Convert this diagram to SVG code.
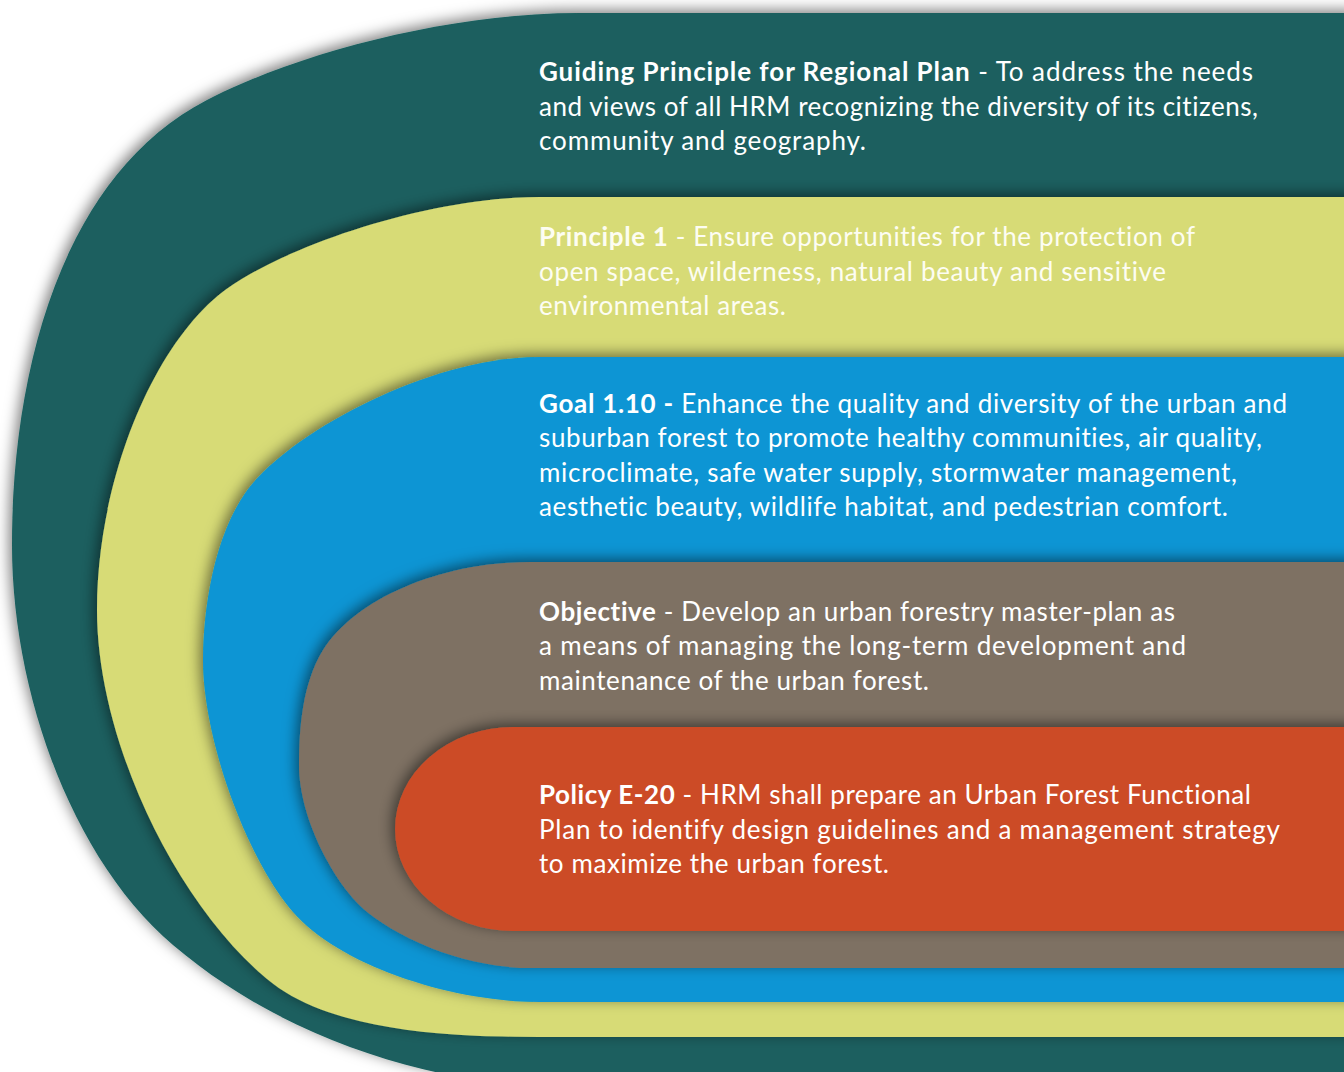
<svg xmlns="http://www.w3.org/2000/svg" width="1344" height="1072" viewBox="0 0 1344 1072">
  <defs>
    <filter id="shade" x="-10%" y="-10%" width="120%" height="120%">
      <feDropShadow dx="-3" dy="-3" stdDeviation="7" flood-color="#000" flood-opacity="0.5"/>
    </filter>
    <style>
      .band { filter: url(#shade); }
      .txt { font-family: "Lato", "Liberation Sans", sans-serif; font-size: 26px; fill: #ffffff;
             font-variant-ligatures: none; font-feature-settings: "liga" 0, "clig" 0, "dlig" 0; }
      .txt.light { fill: #fdfdf2; }
      .b { font-weight: 700; }
    </style>
  </defs>

  <rect width="1344" height="1072" fill="#ffffff"/>

  <!-- outermost: guiding principle -->
  <g id="guiding-principle">
    <path class="band" fill="#1a5f5e" d="M1360,13 L580,13 C450,13 300,52 207,100 C65,173 12,365 12,545 C12,695 74,861 173,945 C287,1042 440,1088 580,1088 L1360,1088 Z"/>
    <text class="txt" x="539" y="81" textLength="714" lengthAdjust="spacing"><tspan class="b">Guiding Principle for Regional Plan</tspan> - To address the needs</text>
    <text class="txt" x="539" y="115.5" textLength="719" lengthAdjust="spacing">and views of all HRM recognizing the diversity of its citizens,</text>
    <text class="txt" x="539" y="150" textLength="327" lengthAdjust="spacing">community and geography.</text>
  </g>

  <!-- principle 1 -->
  <g id="principle-1">
    <path class="band" fill="#d7db76" d="M1360,197 L540,197 C420,197 265,253 213,300 C146,360 97,490 97,610 C97,740 175,902 267,979 C328,1030 440,1037 540,1037 L1360,1037 Z"/>
    <text class="txt light" x="539" y="246" textLength="656" lengthAdjust="spacing"><tspan class="b">Principle 1</tspan> - Ensure opportunities for the protection of</text>
    <text class="txt light" x="539" y="280.5" textLength="627" lengthAdjust="spacing">open space, wilderness, natural beauty and sensitive</text>
    <text class="txt light" x="539" y="315" textLength="247" lengthAdjust="spacing">environmental areas.</text>
  </g>

  <!-- goal 1.10 -->
  <g id="goal-1-10">
    <path class="band" fill="#0895d4" d="M1360,357 L540,357 C430,357 298,430 253,483 C214,529 203,610 203,660 C203,740 247,859 293,912 C339,965 450,1002 540,1002 L1360,1002 Z"/>
    <text class="txt" x="539" y="412.5" textLength="748" lengthAdjust="spacing"><tspan class="b">Goal 1.10 -</tspan> Enhance the quality and diversity of the urban and</text>
    <text class="txt" x="539" y="447" textLength="723" lengthAdjust="spacing">suburban forest to promote healthy communities, air quality,</text>
    <text class="txt" x="539" y="481.5" textLength="698" lengthAdjust="spacing">microclimate, safe water supply, stormwater management,</text>
    <text class="txt" x="539" y="516" textLength="689" lengthAdjust="spacing">aesthetic beauty, wildlife habitat, and pedestrian comfort.</text>
  </g>

  <!-- objective -->
  <g id="objective">
    <path class="band" fill="#7e7163" d="M1360,562 L530,562 C440,562 355,599 323,650 C302,684 299,730 299,765 C299,820 336,887 367,912 C406,943 470,968 530,968 L1360,968 Z"/>
    <text class="txt" x="539" y="620.5" textLength="636" lengthAdjust="spacing"><tspan class="b">Objective</tspan> - Develop an urban forestry master-plan as</text>
    <text class="txt" x="539" y="655" textLength="647" lengthAdjust="spacing">a means of managing the long-term development and</text>
    <text class="txt" x="539" y="689.5" textLength="390" lengthAdjust="spacing">maintenance of the urban forest.</text>
  </g>

  <!-- policy e-20 -->
  <g id="policy-e-20">
    <path class="band" fill="#cc4c28" d="M1360,727 L513,727 A118,102 0 0 0 513,931 L1360,931 Z"/>
    <text class="txt" x="539" y="804" textLength="712" lengthAdjust="spacing"><tspan class="b">Policy E-20</tspan> - HRM shall prepare an Urban Forest Functional</text>
    <text class="txt" x="539" y="838.5" textLength="741" lengthAdjust="spacing">Plan to identify design guidelines and a management strategy</text>
    <text class="txt" x="539" y="873" textLength="350" lengthAdjust="spacing">to maximize the urban forest.</text>
  </g>

  <g id="connectors"/>
</svg>
